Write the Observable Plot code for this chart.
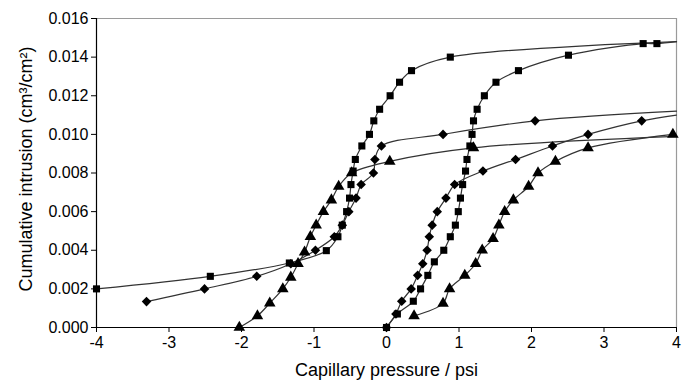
<!DOCTYPE html>
<html>
<head>
<meta charset="utf-8">
<script src="https://cdn.jsdelivr.net/npm/d3@7"></script>
<script src="https://cdn.jsdelivr.net/npm/@observablehq/plot@0.6"></script>
<style>
  html, body { margin: 0; padding: 0; background: #fff; }
</style>
</head>
<body>
<div id="chart"></div>
<script>
// Tick values
const xTicks = [-4, -3, -2, -1, 0, 1, 2, 3, 4];
const yTicks = [0, 0.002, 0.004, 0.006, 0.008, 0.010, 0.012, 0.014, 0.016];
const xLabel = "Capillary pressure / psi";
const yLabel = "Cumulative intrusion (cm³/cm²)";

// Series data: [capillary pressure (psi), cumulative intrusion (cm3/cm2)]
const leftSquare = [[-4.0, 0.0020], [-2.43, 0.00265], [-1.34, 0.00334], [-0.83, 0.00398], [-0.67, 0.0047], [-0.61, 0.0053], [-0.55, 0.0060], [-0.51, 0.0067], [-0.49, 0.0074], [-0.46, 0.0081], [-0.43, 0.0087], [-0.34, 0.0094], [-0.235, 0.0100], [-0.175, 0.0107], [-0.095, 0.0113], [0.05, 0.0120], [0.18, 0.0127], [0.345, 0.0133], [0.88, 0.0140], [4.0, 0.0148]];
const leftDiamond = [[-3.31, 0.00134], [-2.51, 0.0020], [-1.79, 0.00265], [-1.32, 0.0033], [-0.98, 0.0040], [-0.72, 0.0047], [-0.61, 0.0053], [-0.52, 0.0060], [-0.42, 0.0067], [-0.35, 0.0074], [-0.18, 0.0080], [-0.16, 0.0087], [-0.07, 0.0094], [0.78, 0.0100], [2.05, 0.0107], [4.0, 0.0112]];
const leftTriangle = [[-2.03, 0.0], [-1.78, 0.0006], [-1.61, 0.00126], [-1.43, 0.0020], [-1.32, 0.0026], [-1.22, 0.0033], [-1.13, 0.0039], [-1.05, 0.0047], [-0.97, 0.0053], [-0.87, 0.0060], [-0.76, 0.0066], [-0.66, 0.0073], [-0.48, 0.0080], [0.045, 0.0086], [1.2, 0.0093], [4.0, 0.0099]];
const rightSquare = [[0, 0], [0.15, 0.0007], [0.37, 0.00136], [0.47, 0.0020], [0.57, 0.0027], [0.66, 0.0034], [0.79, 0.0040], [0.88, 0.0047], [0.95, 0.0053], [0.99, 0.0060], [1.02, 0.0067], [1.05, 0.0074], [1.09, 0.0081], [1.11, 0.0087], [1.15, 0.0094], [1.18, 0.0100], [1.2, 0.0107], [1.25, 0.0113], [1.35, 0.0120], [1.51, 0.0127], [1.82, 0.0133], [2.51, 0.0141], [3.54, 0.0147], [3.73, 0.0147], [4.0, 0.0148]];
const rightDiamond = [[0, 0], [0.13, 0.0007], [0.21, 0.00136], [0.34, 0.0020], [0.43, 0.0027], [0.5, 0.0033], [0.56, 0.0040], [0.59, 0.0047], [0.63, 0.0053], [0.7, 0.0060], [0.82, 0.0067], [0.94, 0.0074], [1.33, 0.0081], [1.78, 0.0087], [2.29, 0.0094], [2.78, 0.0100], [3.52, 0.0107], [4.0, 0.0110]];
const rightTriangle = [[0.38, 0.0006], [0.78, 0.00125], [0.87, 0.0020], [1.08, 0.0027], [1.23, 0.0033], [1.32, 0.0040], [1.47, 0.0046], [1.55, 0.0053], [1.63, 0.0060], [1.75, 0.0066], [1.96, 0.0073], [2.09, 0.0080], [2.33, 0.0086], [2.78, 0.0093], [3.95, 0.0100]];

const series = [
  {name: "leftSquare", data: leftSquare, symbol: "square"},
  {name: "leftDiamond", data: leftDiamond, symbol: "diamond2"},
  {name: "leftTriangle", data: leftTriangle, symbol: "triangle"},
  {name: "rightSquare", data: rightSquare, symbol: "square"},
  {name: "rightDiamond", data: rightDiamond, symbol: "diamond2"},
  {name: "rightTriangle", data: rightTriangle, symbol: "triangle"}
];
const rows = series.flatMap(s => s.data.map(([x, y]) => ({series: s.name, symbol: s.symbol, x, y})));
const markerRows = rows.filter(d => d.x < 4);

const symR = {square: 4.0, diamond2: 4.3, triangle: 4.3};

const chart = Plot.plot({
  width: 692,
  height: 382,
  marginLeft: 96,
  marginRight: 16,
  marginTop: 18,
  marginBottom: 55,
  style: {fontFamily: "'Liberation Sans', Arial, sans-serif", fontSize: "16px", background: "#fff", color: "#000"},
  x: {domain: [-4, 4], ticks: xTicks, tickFormat: d => String(d), tickSize: 5, tickPadding: 4, label: null},
  y: {domain: [0, 0.016], ticks: yTicks, tickFormat: d3.format(".3f"), tickSize: 5, tickPadding: 3, label: null},
  marks: [
    Plot.ruleY([0.016], {stroke: "#9a9a9a", strokeWidth: 1.2}),
    Plot.ruleX([4], {stroke: "#9a9a9a", strokeWidth: 1.2}),
    Plot.line(rows, {x: "x", y: "y", z: "series", curve: "catmull-rom", stroke: "#333", strokeWidth: 1.2}),
    ...["square", "diamond2", "triangle"].map(sym =>
      Plot.dot(markerRows.filter(d => d.symbol === sym), {x: "x", y: "y", symbol: () => sym, fill: "#000", stroke: "none", r: symR[sym]})
    ),
    Plot.ruleX([-4], {stroke: "#000", strokeWidth: 1.2}),
    Plot.ruleY([0], {stroke: "#000", strokeWidth: 1.2}),
    Plot.text([xLabel], {text: d => d, frameAnchor: "bottom", dy: 43, fontSize: 18, lineAnchor: "middle", textAnchor: "middle"}),
    Plot.text([yLabel], {text: d => d, frameAnchor: "left", dx: -70, dy: -4, rotate: -90, fontSize: 18, lineAnchor: "middle", textAnchor: "middle"})
  ]
});
document.getElementById("chart").appendChild(chart);
</script>
</body>
</html>
